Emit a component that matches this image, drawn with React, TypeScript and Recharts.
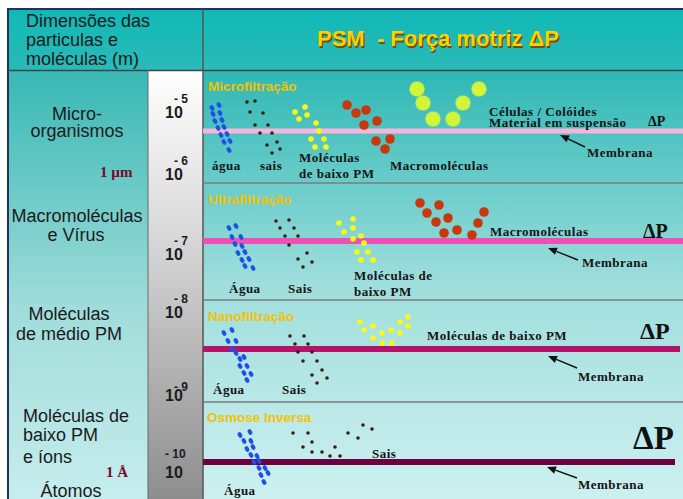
import React from "react";
import { ScatterChart, Scatter, XAxis, YAxis, ReferenceArea, ReferenceLine } from "recharts";

type Pt = [number, number];
type Lbl = [number, number, string];

// particles, one list per panel (diagram units = px of the original slide)
const aguaMF: Pt[] = [[212,108],[219,105],[213,114],[220,113],[215,121],[222,120],[218,128],[224,127],[221,135],[227,134],[224,142],[230,141],[229,150]];
const saisMF: Pt[] = [[247,102],[255,101],[250,112],[263,113],[255,125],[268,125],[260,133],[272,133],[267,145],[277,142],[272,153],[280,149]];
const baixoMF: Pt[] = [[295,112],[305,107],[299,119],[307,115],[316,123],[319,131],[311,139],[324,139],[315,147],[326,147]];
const macroMF: Pt[] = [[347,105],[356,113],[366,110],[364,125],[377,121],[376,141],[390,139],[385,149]];
const celulasMF: Pt[] = [[417,89],[423,103],[433,119],[453,119],[463,103],[479,89]];

const aguaUF: Pt[] = [[229,228],[236,226],[232,237],[241,237],[235,244],[242,246],[238,253],[245,252],[242,260],[249,259],[245,266],[253,268]];
const saisUF: Pt[] = [[276,221],[289,220],[280,228],[294,228],[285,236],[298,236],[289,245],[307,253],[298,259],[312,262],[303,267]];
const baixoUF: Pt[] = [[339,223],[353,219],[344,232],[353,228],[361,236],[353,239],[364,243],[357,252],[368,252],[361,260],[373,260]];
const macroUF: Pt[] = [[420,203],[439,205],[427,213],[436,222],[448,218],[444,233],[457,230],[472,235],[478,223],[484,212]];

const aguaNF: Pt[] = [[224,333],[232,330],[228,341],[236,341],[232,349],[236,353],[240,359],[244,357],[240,366],[247,366],[244,373],[251,374],[247,380]];
const saisNF: Pt[] = [[290,336],[304,336],[295,344],[308,344],[298,352],[312,352],[303,361],[317,361],[312,375],[322,370],[317,383],[327,378]];
const baixoNF: Pt[] = [[360,322],[364,330],[373,326],[373,338],[382,333],[382,343],[391,330],[392,343],[400,333],[400,322],[408,317],[408,326]];

const aguaOI: Pt[] = [[240,435],[250,432],[244,441],[251,441],[247,449],[253,447],[251,455],[257,456],[254,462],[259,461],[259,468],[265,468],[261,475],[268,473],[264,482]];
const saisOI: Pt[] = [[293,433],[308,433],[312,442],[303,447],[312,452],[322,452],[330,456],[335,447],[340,456],[348,433],[358,438],[363,425],[372,429]];

// membranes: y, x end
const membraneY = [131, 241, 349, 462];
const membraneEnd = [683, 683, 680, 675];
const panelBreaks = [183, 300, 402];

// arrows to the membrane: tail -> head
const arrowTails: Pt[] = [[585,147],[578,260],[577,368],[577,478]];
const arrowHeads: Pt[] = [[560,135],[548,248],[548,356],[547,467]];

// texts
const headerLines: Lbl[] = [[26,27,"Dimensões das"],[26,46,"particulas e"],[26,65,"moléculas (m)"]];
const sizeClasses: Lbl[] = [
  [77,120,"Micro-"],[77,137,"organismos"],
  [77,222,"Macromoléculas"],[76,241,"e Vírus"],
  [69,320,"Moléculas"],[69,340,"de médio PM"],
  [71,497,"Átomos"],
];
const sizeClassesLeft: Lbl[] = [[23,422,"Moléculas de"],[23,441,"baixo PM"],[23,463,"e íons"]];
const units: Lbl[] = [[100,177,"1 µm"],[106,477,"1 Å"]];
const powers: Lbl[] = [[165,118,"10"],[165,180,"10"],[165,260,"10"],[165,318,"10"],[165,401,"10"],[165,478,"10"]];
const exponents: Lbl[] = [[174,103,"- 5"],[174,165,"- 6"],[174,245,"- 7"],[174,303,"- 8"],[174,391,"- 9"],[165,458,"- 10"]];
const mainTitle: Lbl[] = [[438,46,"PSM  - Força motriz ΔP"]];
const processTitles: Lbl[] = [[208,91,"Microfiltração"],[208,204,"Ultrafiltração"],[208,321,"Nanofiltração"],[207,422,"Osmose Inversa"]];
const particleLabels: Lbl[] = [
  [212,170,"água"],[260,170,"sais"],[299,162,"Moléculas"],[299,178,"de baixo PM"],[390,170,"Macromoléculas"],
  [489,116,"Células / Colóides"],[489,127,"Material em suspensão"],[587,157,"Membrana"],
  [229,293,"Água"],[288,293,"Sais"],[354,280,"Moléculas de"],[354,296,"baixo PM"],[490,236,"Macromoléculas"],[582,267,"Membrana"],
  [213,394,"Água"],[282,394,"Sais"],[427,340,"Moléculas de baixo PM"],[578,381,"Membrana"],
  [224,495,"Água"],[372,458,"Sais"],[578,489,"Membrana"],
];
const deltaP: Lbl[] = [[648,126,"ΔP"],[643,238,"ΔP"],[640,339,"ΔP"],[633,449,"ΔP"]];
const deltaSizes = [14, 20, 24, 33];

const W = 683;
const H = 499;
const SANS = "'Liberation Sans', Arial, sans-serif";
const SERIF = "'Liberation Serif', 'Times New Roman', serif";

const pts = (a: Pt[]) => a.map(([x, y]) => ({ x, y }));
const lbls = (a: Lbl[]) => a.map(([x, y, t], i) => ({ x, y, t, i }));

const textShape = (style: any, anchor = "start", shadow?: string) => (p: any) => (
  <g>
    {shadow && (
      <text x={p.cx + 1.5} y={p.cy + 1.5} textAnchor={anchor} style={{ whiteSpace: "pre" }} {...style} fill={shadow}>{p.payload.t}</text>
    )}
    <text x={p.cx} y={p.cy} textAnchor={anchor} style={{ whiteSpace: "pre" }} {...style}>{p.payload.t}</text>
  </g>
);

const deltaShape = (p: any) => (
  <text x={p.cx} y={p.cy} fontFamily={SERIF} fontWeight="bold" fontSize={deltaSizes[p.payload.i]} fill="#111">{p.payload.t}</text>
);

const water = (p: any) => (
  <ellipse cx={p.cx} cy={p.cy} rx={3} ry={2.1} fill="#1f4fe6" transform={`rotate(60 ${p.cx} ${p.cy})`} />
);
const salt = (p: any) => <circle cx={p.cx} cy={p.cy} r={1.8} fill="#3a1c0c" />;
const smallMol = (p: any) => <circle cx={p.cx} cy={p.cy} r={2.8} fill="#fafa10" />;
const macro = (p: any) => <circle cx={p.cx} cy={p.cy} r={4.8} fill="#c8380e" />;
const cell = (p: any) => {
  const n = 22;
  const d = Array.from({ length: n * 2 }, (_, k) => {
    const a = (Math.PI * k) / n;
    const r = k % 2 === 0 ? 8.2 : 6.9;
    return `${(p.cx + r * Math.cos(a)).toFixed(2)},${(p.cy + r * Math.sin(a)).toFixed(2)}`;
  }).join(" ");
  return <polygon points={d} fill="#d2f53a" />;
};

const arrowShape = (p: any) => {
  const { x1, y1, x2, y2 } = p;
  const ang = Math.atan2(y2 - y1, x2 - x1);
  const L = 9, Wd = 3.8;
  const bx = x2 - L * Math.cos(ang), by = y2 - L * Math.sin(ang);
  const nx = -Math.sin(ang) * Wd, ny = Math.cos(ang) * Wd;
  return (
    <g>
      <line x1={x1} y1={y1} x2={bx} y2={by} stroke="#111" strokeWidth={1.4} />
      <polygon points={`${x2},${y2} ${bx + nx},${by + ny} ${bx - nx},${by - ny}`} fill="#111" />
    </g>
  );
};

export default function App() {
  const sans18 = { fontFamily: SANS, fontSize: 18, fill: "#1b1b1b" };
  const serifLbl = { fontFamily: SERIF, fontWeight: "bold", fontSize: 13, letterSpacing: 0.5, fill: "#141414" };
  return (
    <div style={{ width: W, height: H }}>
      <style>{"body{margin:0}"}</style>
      <ScatterChart width={W} height={H} margin={{ top: 0, right: 0, bottom: 0, left: 0 }}>
        <defs>
          <linearGradient id="gHead" x1="0" y1="0" x2="0" y2="1">
            <stop offset="0%" stopColor="#0fb9b6" />
            <stop offset="100%" stopColor="#2bbab8" />
          </linearGradient>
          <linearGradient id="gPanels" x1="0" y1="0" x2="0" y2="1">
            <stop offset="0%" stopColor="#2eb8b5" />
            <stop offset="50%" stopColor="#9fdedc" />
            <stop offset="100%" stopColor="#cdf0f0" />
          </linearGradient>
          <linearGradient id="gLeft" x1="0" y1="0" x2="0" y2="1">
            <stop offset="0%" stopColor="#38b8b4" />
            <stop offset="55%" stopColor="#9fdcda" />
            <stop offset="100%" stopColor="#c6eded" />
          </linearGradient>
          <linearGradient id="gGray" x1="0" y1="0" x2="0" y2="1">
            <stop offset="0%" stopColor="#ffffff" />
            <stop offset="35%" stopColor="#dcdcdc" />
            <stop offset="100%" stopColor="#8e8e8e" />
          </linearGradient>
        </defs>
        <XAxis type="number" dataKey="x" domain={[0, W]} hide />
        <YAxis type="number" dataKey="y" domain={[0, H]} reversed hide />

        <ReferenceArea x1={8} x2={203} y1={9} y2={70} fill="url(#gHead)" fillOpacity={1} stroke="none" />
        <ReferenceArea x1={203} x2={W} y1={9} y2={70} fill="url(#gHead)" fillOpacity={1} stroke="none" />
        <ReferenceArea x1={203} x2={W} y1={70} y2={H} fill="url(#gPanels)" fillOpacity={1} stroke="none" />
        <ReferenceArea x1={8} x2={148} y1={70} y2={H} fill="url(#gLeft)" fillOpacity={1} stroke="none" />
        <ReferenceArea x1={148} x2={203} y1={70} y2={H} fill="url(#gGray)" fillOpacity={1} stroke="none" />

        <ReferenceLine segment={[{ x: 7, y: 9 }, { x: W, y: 9 }]} stroke="#1d3461" strokeWidth={2} />
        <ReferenceLine segment={[{ x: 8, y: 9 }, { x: 8, y: H }]} stroke="#1d3461" strokeWidth={2} />
        <ReferenceLine segment={[{ x: 8, y: 70.5 }, { x: W, y: 70.5 }]} stroke="#3c4650" strokeWidth={1.5} />
        <ReferenceLine segment={[{ x: 203, y: 9 }, { x: 203, y: H }]} stroke="#555" strokeWidth={1.5} />
        <ReferenceLine segment={[{ x: 148, y: 70 }, { x: 148, y: H }]} stroke="#6b6b6b" strokeWidth={1} />
        {panelBreaks.map((y) => (
          <ReferenceLine key={y} segment={[{ x: 203, y }, { x: W, y }]} stroke="#7c7c7c" strokeWidth={1.5} />
        ))}

        {membraneY.map((y, i) => (
          <ReferenceLine
            key={`m${i}`}
            segment={[{ x: 203, y }, { x: membraneEnd[i], y }]}
            stroke={["#f6b6dc", "#ef4fb6", "#b5136a", "#6c0040"][i]}
            strokeWidth={i === 0 ? 5 : 6}
          />
        ))}
        {arrowTails.map((t, i) => (
          <ReferenceLine
            key={`a${i}`}
            segment={[{ x: t[0], y: t[1] }, { x: arrowHeads[i][0], y: arrowHeads[i][1] }]}
            shape={arrowShape}
          />
        ))}

        <Scatter data={pts([...aguaMF, ...aguaUF, ...aguaNF, ...aguaOI])} shape={water} isAnimationActive={false} />
        <Scatter data={pts([...saisMF, ...saisUF, ...saisNF, ...saisOI])} shape={salt} isAnimationActive={false} />
        <Scatter data={pts([...baixoMF, ...baixoUF, ...baixoNF])} shape={smallMol} isAnimationActive={false} />
        <Scatter data={pts([...macroMF, ...macroUF])} shape={macro} isAnimationActive={false} />
        <Scatter data={pts(celulasMF)} shape={cell} isAnimationActive={false} />

        <Scatter data={lbls(headerLines)} shape={textShape(sans18)} isAnimationActive={false} />
        <Scatter data={lbls(sizeClasses)} shape={textShape(sans18, "middle")} isAnimationActive={false} />
        <Scatter data={lbls(sizeClassesLeft)} shape={textShape(sans18)} isAnimationActive={false} />
        <Scatter data={lbls(units)} shape={textShape({ fontFamily: SERIF, fontWeight: "bold", fontSize: 15, fill: "#7a0a24" })} isAnimationActive={false} />
        <Scatter data={lbls(powers)} shape={textShape({ fontFamily: SANS, fontWeight: "bold", fontSize: 16, fill: "#1b1b1b" })} isAnimationActive={false} />
        <Scatter data={lbls(exponents)} shape={textShape({ fontFamily: SANS, fontWeight: "bold", fontSize: 12, fill: "#1b1b1b" })} isAnimationActive={false} />
        <Scatter data={lbls(mainTitle)} shape={textShape({ fontFamily: SANS, fontWeight: "bold", fontSize: 22, fill: "#ffd000" }, "middle", "#6e5400")} isAnimationActive={false} />
        <Scatter data={lbls(processTitles)} shape={textShape({ fontFamily: SANS, fontWeight: "bold", fontSize: 13.5, fill: "#f4c200" })} isAnimationActive={false} />
        <Scatter data={lbls(particleLabels)} shape={textShape(serifLbl)} isAnimationActive={false} />
        <Scatter data={lbls(deltaP)} shape={deltaShape} isAnimationActive={false} />
      </ScatterChart>
    </div>
  );
}
